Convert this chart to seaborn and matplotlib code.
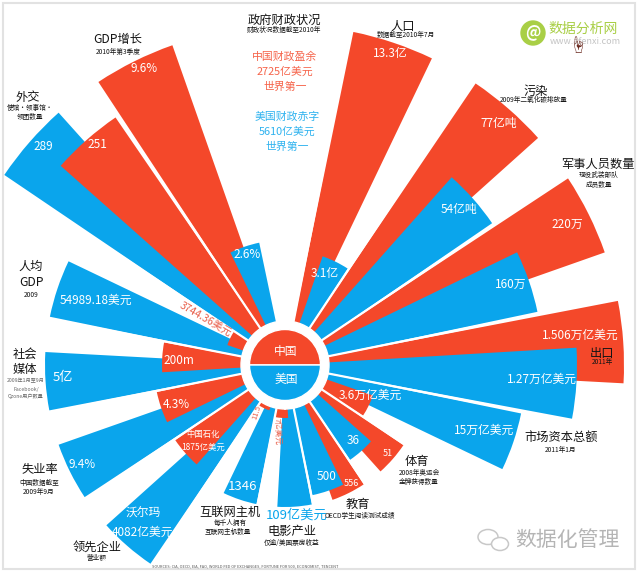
import pandas as pd
import seaborn as sns
import matplotlib.pyplot as plt
import numpy as np
from matplotlib.patches import Circle, Ellipse, Rectangle

categories = ['人口', '污染', '军事人员数量', '出口', '市场资本总额', '体育', '教育', '电影产业',
              '互联网主机', '领先企业', '失业率', '社会媒体', '人均GDP', '外交', 'GDP增长']
china_len = [340, 340, 339, 339, 93, 143, 143, 53, 48, 133, 131, 123, 61, 300, 339]
usa_len = [115, 251, 258, 292, 241, 115, 133, 142, 142, 240, 240, 240, 240, 339, 125]
leading = ['中国', '中国', '中国', '中国', '美国', '中国', '中国', '美国',
           '美国', '美国', '美国', '美国', '美国', '美国', '中国']
china_text = ['13.3亿', '77亿吨', '220万', '1.506万亿美元', '3.6万亿美元', '51', '556', '7亿美元',
              '11.5', '中国石化\n1875亿美元', '4.3%', '200m', '3744.36美元', '251', '9.6%']
usa_text = ['3.1亿', '54亿吨', '160万', '1.27万亿美元', '15万亿美元', '36', '500', '109亿美元',
            '1346', '沃尔玛\n4082亿美元', '9.4%', '5亿', '54989.18美元', '289', '2.6%']

RED = '#F4482A'
BLUE = '#0AA5EC'
INK = '#151515'


class Rose():

    def __init__(self, width=640, height=572, center=(285, 365), rmax=345):
        self.width = width
        self.height = height
        self.center = center
        self.rmax = rmax
        self.df = None
        self.fig = None
        self.ax = None
        self.top = None
        self._get_df()

    def _get_df(self):
        k = np.arange(len(categories))
        first = np.array(leading) == '中国'
        china = pd.DataFrame({'cat': categories, 'team': '中国', 'r': china_len,
                              'theta': 18.6 + 22.5*k + 7.5*(~first)})
        usa = pd.DataFrame({'cat': categories, 'team': '美国', 'r': usa_len,
                            'theta': 18.6 + 22.5*k + 7.5*first})
        self.df = pd.concat([china, usa]).sort_values(by='r', ascending=False)  # short bars stay on top
        self.df['theta'] = np.deg2rad(self.df['theta'])

    def _get_axes(self):
        cx, cy = self.center
        w, h, r = self.width, self.height, self.rmax
        self.fig = plt.figure(figsize=(w/100, h/100), dpi=100)
        self.ax = self.fig.add_axes([(cx-r)/w, (h-cy-r)/h, 2*r/w, 2*r/h], projection='polar')
        self.top = self.fig.add_axes([0, 0, 1, 1])
        self.top.set_xlim(0, w)
        self.top.set_ylim(h, 0)
        self.top.axis('off')

    def plot_bars(self):
        for i in range(self.df.shape[0]):
            row = self.df.iloc[[i]]
            color = RED if row['team'].iloc[0] == '中国' else BLUE
            sns.barplot(data=row, x='theta', y='r', native_scale=True, width=np.deg2rad(14),
                        color=color, saturation=1, linewidth=0, ax=self.ax)
        # white lines between the categories
        gaps = np.deg2rad(11.1 + 22.5*np.arange(len(categories)))
        self.ax.vlines(gaps, 0, 340, colors='white', linewidth=1.6, zorder=4)
        self.ax.bar(0, 44, width=2*np.pi, color='white', zorder=5)
        self.ax.bar(0, 35.5, width=np.pi, color=RED, zorder=6)
        self.ax.bar(np.pi, 35.5, width=np.pi, color=BLUE, zorder=6)
        self.ax.set_theta_zero_location('N')
        self.ax.set_theta_direction(-1)
        self.ax.set_rlim(0, self.rmax)
        self.ax.set_axis_off()

    def plot_values(self):
        china_xy = [(390, 54), (499, 123), (567, 224), (580, 335), (370, 395), (388, 454), (351, 484),
                    (277, 431), (257, 412), (203, 441), (176, 404), (179, 360), (205, 320), (97, 145), (144, 69)]
        usa_xy = [(325, 273), (459, 209), (511, 284), (542, 379), (484, 430), (353, 441), (327, 477),
                  (297, 515), (243, 487), (143, 523), (82, 465), (63, 378), (96, 300), (43, 146), (247, 254)]
        for name, xy, txt in zip(categories, china_xy, china_text):
            size, color, rot = 8.5, 'white', 0
            if name in ['体育', '教育']:
                size = 6.5
            if name == '领先企业':
                size = 6
            if name == '电影产业':
                size, color, rot = 5.5, '#E8604C', 272
            if name == '互联网主机':
                size, color, rot = 5.5, '#E8604C', 72
            if name == '人均GDP':
                size, color, rot = 7.5, '#E8604C', -30
            self.top.text(xy[0], xy[1], txt, fontsize=size, color=color, rotation=rot,
                          ha='center', va='center', linespacing=1.5)
        for name, xy, txt in zip(categories, usa_xy, usa_text):
            color = BLUE if name == '电影产业' else 'white'
            size = 9.5 if name in ['电影产业', '社会媒体', '互联网主机'] else 8.5
            self.top.text(xy[0], xy[1], txt, fontsize=size, color=color,
                          ha='center', va='center', linespacing=1.6)
        self.top.text(286, 351, '中国', fontsize=8.5, color='white', ha='center', va='center')
        self.top.text(286, 379, '美国', fontsize=8.5, color='white', ha='center', va='center')

    def plot_titles(self):
        heads = [(118, 39, 'GDP增长'), (28, 98, '外交'), (31, 266, '人均'), (31, 282, 'GDP'),
                 (25, 354, '社会'), (25, 370, '媒体'), (40, 470, '失业率'), (97, 547, '领先企业'),
                 (230, 512, '互联网主机'), (292, 532, '电影产业'), (358, 504, '教育'), (417, 461, '体育'),
                 (561, 437, '市场资本总额'), (602, 353, '出口'), (598, 164, '军事人员数量'),
                 (536, 91, '污染'), (403, 26, '人口'), (284, 20, '政府财政状况')]
        notes = [(118, 52, '2010年第3季度'), (30, 108, '使馆・领事馆・'), (30, 117, '领团数量'), (31, 295, '2009'),
                 (39, 483, '中国数据截至'), (39, 492, '2009年9月'), (97, 558, '营业额'),
                 (230, 523, '每千人拥有'), (228, 532, '互联网主机数量'), (292, 543, '仅逾/美国票房收益'),
                 (360, 516, 'OECD学生阅读测试成绩'), (419, 473, '2008年奥运会'), (419, 482, '金牌获得数量'),
                 (561, 450, '2011年1月'), (602, 362, '2011年'), (599, 175, '现役武装部队'), (599, 185, '成员数量'),
                 (534, 100, '2009年二氧化碳排放量'), (406, 35, '数据截至2010年7月'), (284, 30, '财政状况数据截至2010年')]
        greys = [(26, 381, '2009年1月至9月'), (26, 389, 'Facebook/'), (26, 397, 'Qzone用户数量')]
        for x, y, txt in heads:
            self.top.text(x, y, txt, fontsize=8.8, color=INK, ha='center', va='center')
        for x, y, txt in notes:
            self.top.text(x, y, txt, fontsize=4.8, color=INK, ha='center', va='center')
        for x, y, txt in greys:
            self.top.text(x, y, txt, fontsize=3.7, color='#666666', ha='center', va='center')
        lines = [(285, 57, '中国财政盈余', RED), (285, 72, '2725亿美元', RED), (285, 87, '世界第一', RED),
                 (287, 117, '美国财政赤字', BLUE), (287, 132, '5610亿美元', BLUE), (287, 147, '世界第一', BLUE)]
        for x, y, txt, color in lines:
            self.top.text(x, y, txt, fontsize=7.8, color=color, alpha=0.85, ha='center', va='center')
        self.top.text(245, 566, 'SOURCES: CIA, OECD, EIA, FAO, WORLD FED OF EXCHANGES, FORTUNE FOR 500, ECONOMIST, TENCENT',
                      fontsize=2.8, color='#555555', ha='center', va='center')

    def plot_marks(self):
        self.top.add_patch(Rectangle((3, 3), 632, 566, fill=False, edgecolor='#E2E2E2', linewidth=1.5))
        # site logo, top right
        self.top.add_patch(Circle((533, 33), 12, color='#A9CF46'))
        self.top.text(533, 32, '@', fontsize=11, color='white', fontweight='bold', ha='center', va='center')
        self.top.text(583, 29, '数据分析网', fontsize=10, color='#A9CF46', ha='center', va='center')
        self.top.text(585, 42, 'www.afenxi.com', fontsize=6.5, color='#C4C4C4', ha='center', va='center')
        self.top.text(578, 47, '☝', fontsize=13, color='#6B2A20', ha='center', va='center')
        # wechat mark, bottom right
        self.top.add_patch(Ellipse((488, 537), 20, 15, fill=False, edgecolor='#C8C8C8', linewidth=1.1))
        self.top.add_patch(Ellipse((500, 544), 17, 13, facecolor='white', edgecolor='#C8C8C8', linewidth=1.1))
        self.top.text(567, 540, '数据化管理', fontsize=15, color='#B5B5B5', ha='center', va='center')

    def plot(self):
        self._get_axes()
        self.plot_bars()
        self.plot_values()
        self.plot_titles()
        self.plot_marks()
        self.fig.savefig('out.png', dpi=100)


sns.set_theme(style='white')
plt.rcParams['font.family'] = ['Noto Sans CJK SC', 'DejaVu Sans']

rose = Rose()
rose.plot()
